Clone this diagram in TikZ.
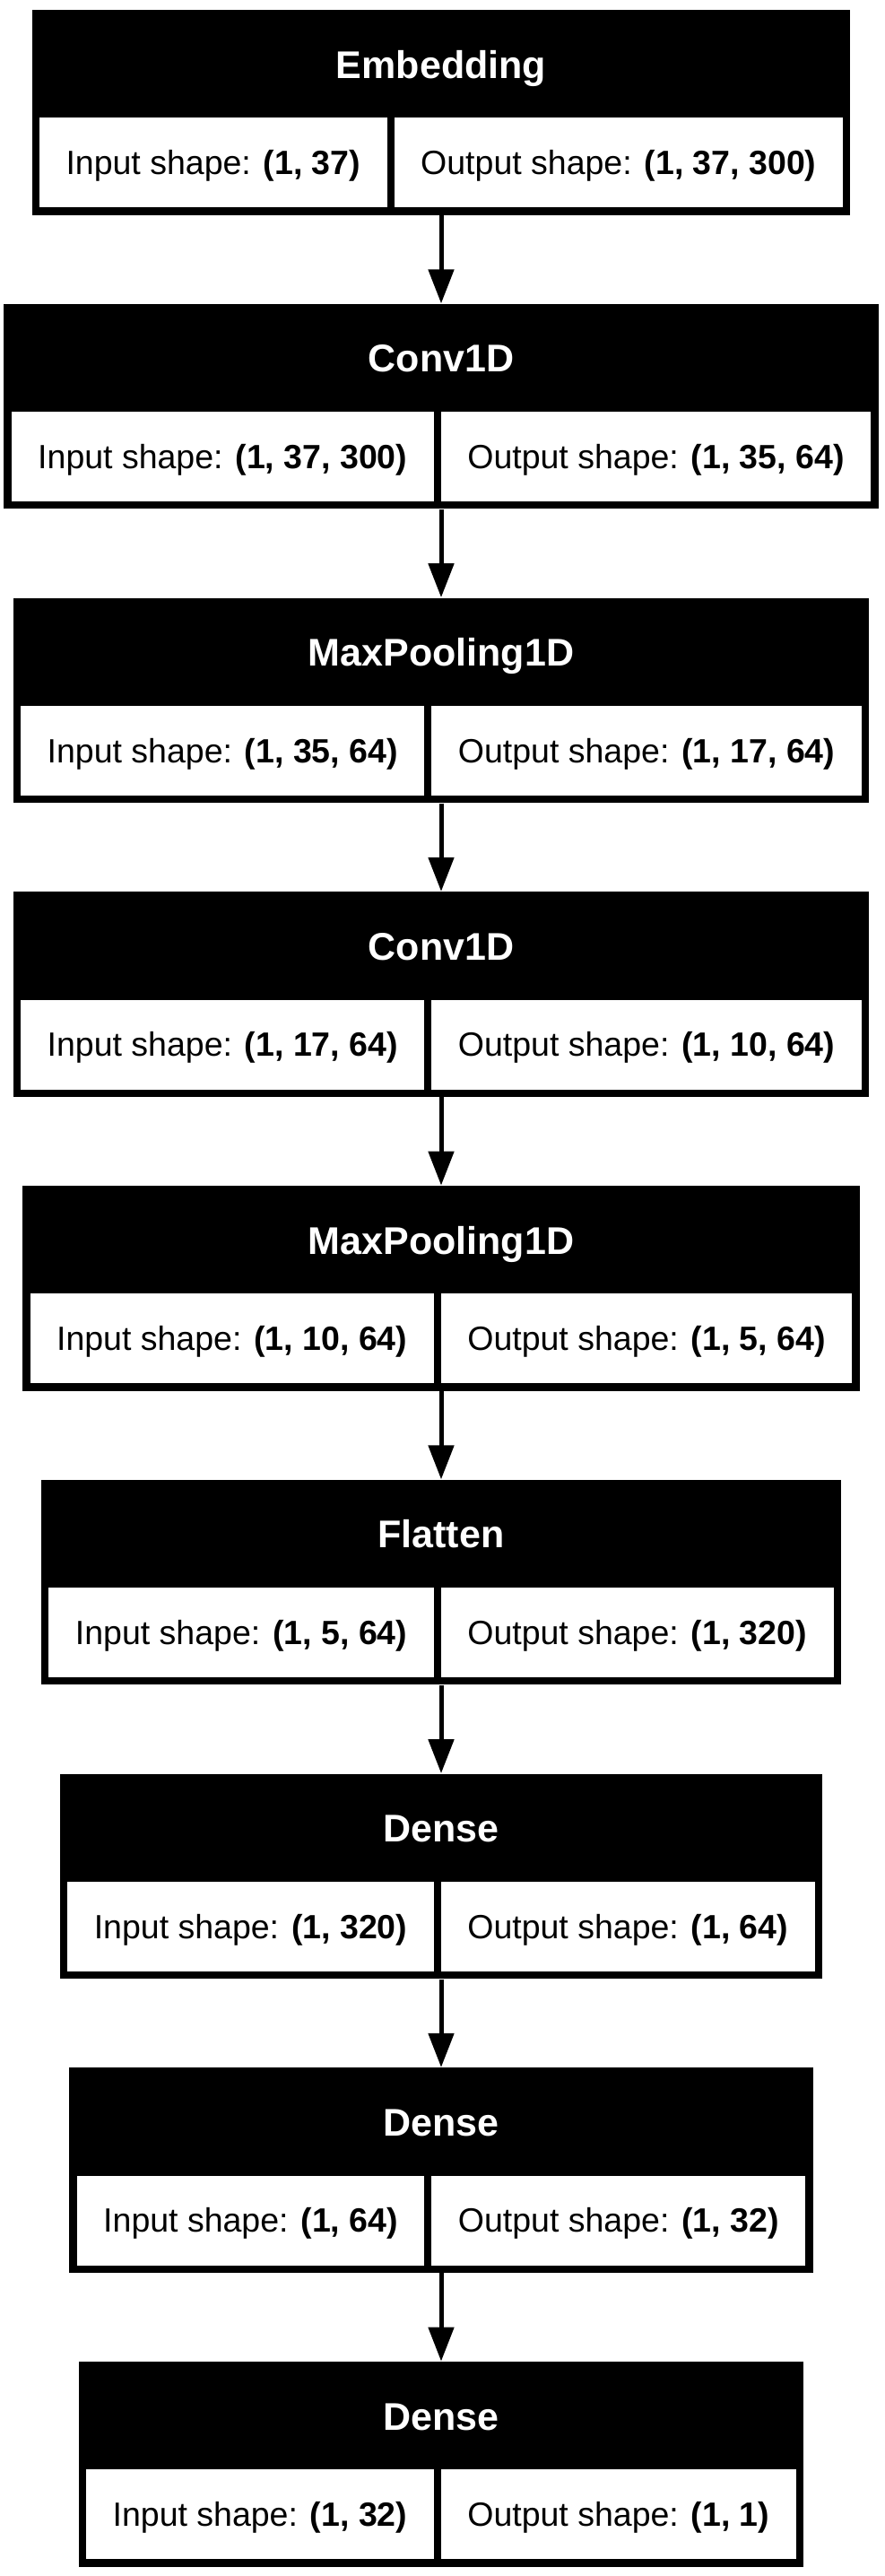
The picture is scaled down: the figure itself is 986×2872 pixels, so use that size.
\documentclass[tikz,border=0pt]{standalone}
\usepackage{fontspec}
\setmainfont{Liberation Sans}
\usepackage{tikz}
\usetikzlibrary{positioning,arrows.meta,fit,backgrounds}

\newcommand{\cellfont}{\fontsize{18.75pt}{22pt}\selectfont}
\newcommand{\headfont}{\fontsize{21.5pt}{26pt}\selectfont\bfseries}

\begin{document}
\begin{tikzpicture}[x=0.5pt, y=-0.5pt,
        layer/.style={fill=black, inner xsep=4pt, inner ysep=0pt},
        cell/.style={fill=white, inner xsep=14.75pt, inner ysep=0pt, minimum height=50pt,
            text height=13.4pt, text depth=0pt, font=\cellfont},
        title/.style={text=white, inner sep=0pt, font=\headfont},
        flow/.style={line width=2.5pt, -{Triangle[length=19pt, width=14pt]}}]
        \useasboundingbox (0,0) rectangle (986,2872);
        \foreach \i/\lname/\ishape/\oshape in {
            0/Embedding/{1, 37}/{1, 37, 300},
            1/Conv1D/{1, 37, 300}/{1, 35, 64},
            2/MaxPooling1D/{1, 35, 64}/{1, 17, 64},
            3/Conv1D/{1, 17, 64}/{1, 10, 64},
            4/MaxPooling1D/{1, 10, 64}/{1, 5, 64},
            5/Flatten/{1, 5, 64}/{1, 320},
            6/Dense/{1, 320}/{1, 64},
            7/Dense/{1, 64}/{1, 32},
            8/Dense/{1, 32}/{1, 1}}
            {\coordinate (top\i) at (492,{11+327.75*\i});
            \matrix (row\i) [anchor=north, column sep=4pt, inner sep=0pt, ampersand replacement=\&] at ([yshift=-59.75pt]top\i) {
                \node[cell] (in\i) {Input shape: \textbf{(\ishape)}}; \& \node[cell] (out\i) {Output shape: \textbf{(\oshape)}}; \\
            };
            \coordinate (bot\i) at ([yshift=-4pt]row\i.south);
            \begin{scope}[on background layer]
                \node[layer, fit=(top\i)(row\i)(bot\i)] (layer\i) {};
            \end{scope}
            \node[title, anchor=base] (title\i) at ([yshift=-38pt]top\i) {\lname};}
        \foreach \i [evaluate=\i as \j using int(\i+1)] in {0,...,7}
            \draw[flow] (layer\i.south) -- (layer\j.north);
    \end{tikzpicture}
\end{document}
